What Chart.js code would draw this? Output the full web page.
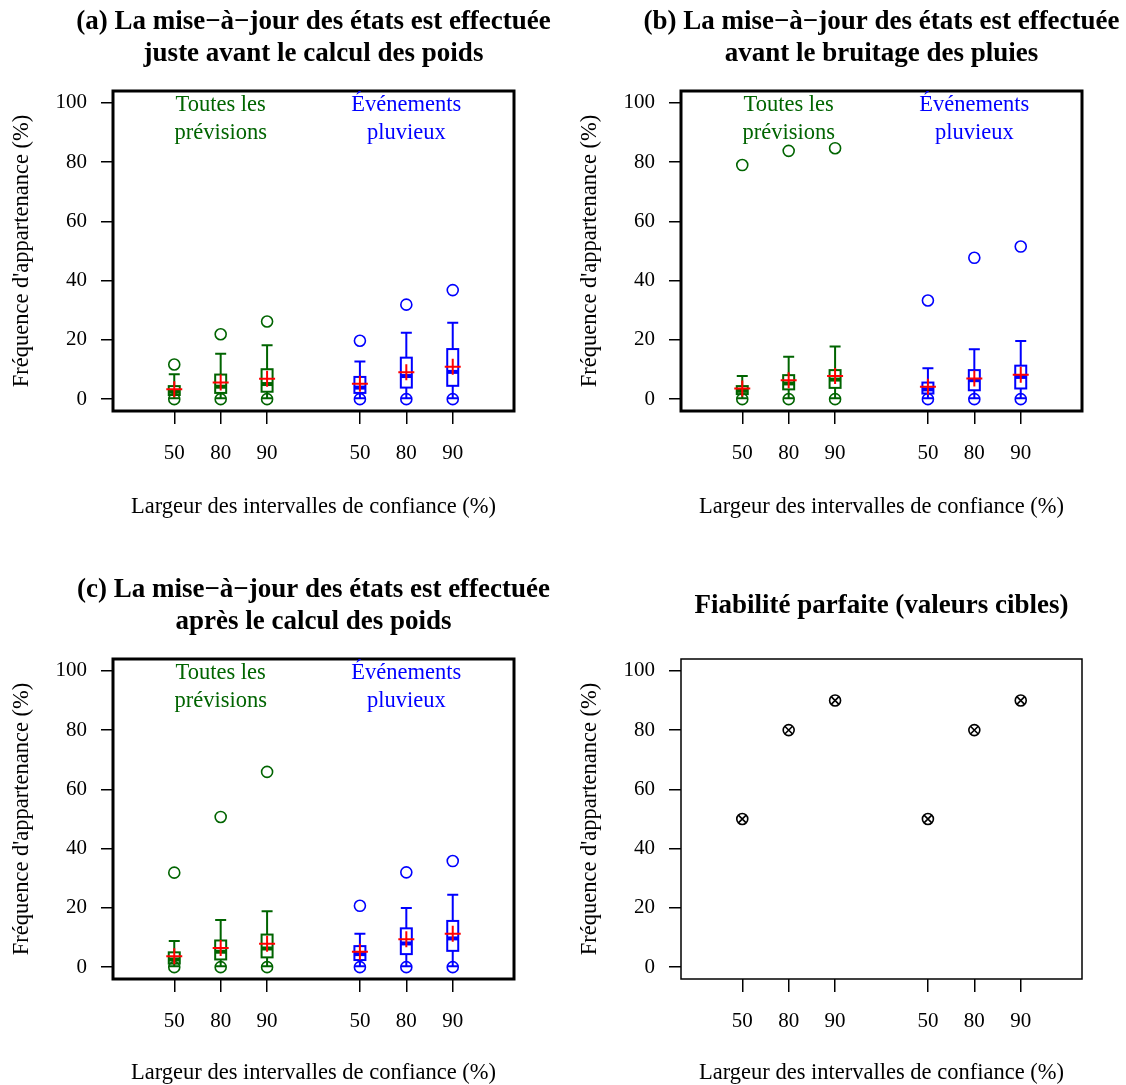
<!DOCTYPE html>
<html>
<head>
<meta charset="utf-8">
<script src="https://cdn.jsdelivr.net/npm/chart.js@4.4.1/dist/chart.umd.min.js"></script>
<style>
  html, body { margin: 0; padding: 0; background: #fff; }
  #wrap { position: relative; width: 1126px; height: 1085px; overflow: hidden; }
  canvas { position: absolute; }
</style>
</head>
<body>
<div id="wrap">
  <canvas id="pa" width="563" height="543" style="left:0;top:0"></canvas>
  <canvas id="pb" width="563" height="543" style="left:563px;top:0"></canvas>
  <canvas id="pc" width="563" height="542" style="left:0;top:543px"></canvas>
  <canvas id="pd" width="563" height="542" style="left:563px;top:543px"></canvas>
</div>
<script>
// --- données ---
const positions = [1, 2, 3, 5, 6, 7];
const xTickLabels = ["50", "80", "90", "50", "80", "90"];
const yTickValues = [0, 20, 40, 60, 80, 100];

// (a) mise-à-jour juste avant le calcul des poids
const aLow     = [0.3, 0.3, 0.3, 0.3, 0.3, 0.3];
const aQ1      = [1.4, 2.1, 2.5, 2.1, 3.9, 4.5];
const aMedian  = [2.5, 4.2, 5.1, 3.9, 7.8, 9.2];
const aQ3      = [4.4, 8.3, 10.1, 7.5, 14.0, 16.9];
const aHigh    = [8.4, 15.3, 18.2, 12.7, 22.4, 25.8];
const aMean    = [3.3, 5.6, 6.9, 5.2, 9.1, 10.9];
const aOutHigh = [11.7, 21.9, 26.2, 19.7, 31.9, 36.8];
const aOutLow  = [0, 0, 0, 0, 0, 0];

// (b) mise-à-jour avant le bruitage des pluies
const bLow     = [0.3, 0.3, 0.3, 0.3, 0.3, 0.3];
const bQ1      = [1.7, 3.3, 3.8, 1.9, 3.0, 3.6];
const bMedian  = [2.8, 5.3, 6.6, 3.3, 6.4, 7.5];
const bQ3      = [4.4, 8.1, 9.8, 5.6, 9.8, 11.3];
const bHigh    = [7.8, 14.3, 17.8, 10.4, 16.8, 19.6];
const bMean    = [3.6, 6.4, 7.8, 4.2, 7.0, 8.2];
const bOutHigh = [79.0, 83.8, 84.7, 33.3, 47.7, 51.5];
const bOutLow  = [0, 0, 0, 0, 0, 0];

// (c) mise-à-jour après le calcul des poids
const cLow     = [0.3, 0.3, 0.3, 0.3, 0.3, 0.3];
const cQ1      = [1.2, 2.6, 3.3, 2.4, 4.4, 5.5];
const cMedian  = [2.6, 5.2, 6.3, 4.4, 8.0, 9.7];
const cQ3      = [5.0, 9.0, 11.0, 7.1, 13.1, 15.6];
const cHigh    = [8.8, 15.9, 18.9, 11.3, 20.0, 24.4];
const cMean    = [3.7, 6.5, 7.9, 5.2, 9.4, 11.3];
const cOutHigh = [31.9, 50.7, 65.9, 20.7, 32.0, 35.8];
const cOutLow  = [0, 0, 0, 0, 0, 0];

// fiabilité parfaite
const targetValues = [50, 80, 90, 50, 80, 90];

const titleA = ["(a) La mise\u2212\u00e0\u2212jour des \u00e9tats est effectu\u00e9e", "juste avant le calcul des poids"];
const titleB = ["(b) La mise\u2212\u00e0\u2212jour des \u00e9tats est effectu\u00e9e", "avant le bruitage des pluies"];
const titleC = ["(c) La mise\u2212\u00e0\u2212jour des \u00e9tats est effectu\u00e9e", "apr\u00e8s le calcul des poids"];
const titleD = ["Fiabilit\u00e9 parfaite (valeurs cibles)"];
const groupLabels = [["Toutes les", "pr\u00e9visions"], ["\u00c9v\u00e9nements", "pluvieux"]];
const groupLabelX = [2, 6];
const yTitle = "Fr\u00e9quence d'appartenance (%)";
const xTitle = "Largeur des intervalles de confiance (%)";

// --- styles ---
const FONT = "'Liberation Serif', 'DejaVu Serif', serif";
const GREEN = "#006400", BLUE = "#0000FF", RED = "#FF0000";
const boxColors = [GREEN, GREEN, GREEN, BLUE, BLUE, BLUE];
const groupColors = [GREEN, BLUE];
const BOX_W = 401, BOX_H = 320;

function pts(vals) { return vals.map((v, i) => ({ x: positions[i], y: v })); }

// boîtes à moustaches dessinées avec les échelles du graphique
const boxPlugin = {
  id: "boxes",
  beforeDatasetsDraw(chart) {
    const st = chart.config.options.plugins.boxes;
    if (!st || !st.q1) return;
    const ctx = chart.ctx, xs = chart.scales.x, ys = chart.scales.y;
    const hw = 5.5;
    ctx.save();
    positions.forEach((p, i) => {
      const x = xs.getPixelForValue(p);
      const yl = ys.getPixelForValue(st.low[i]);
      const y1 = ys.getPixelForValue(st.q1[i]);
      const ym = ys.getPixelForValue(st.median[i]);
      const y3 = ys.getPixelForValue(st.q3[i]);
      const yh = ys.getPixelForValue(st.high[i]);
      ctx.strokeStyle = boxColors[i];
      ctx.lineWidth = 2;
      ctx.beginPath();
      ctx.moveTo(x, y3); ctx.lineTo(x, yh);
      ctx.moveTo(x, y1); ctx.lineTo(x, yl);
      ctx.moveTo(x - hw, yh); ctx.lineTo(x + hw, yh);
      ctx.moveTo(x - hw, yl); ctx.lineTo(x + hw, yl);
      ctx.stroke();
      ctx.strokeRect(x - hw, y3, 2 * hw, y1 - y3);
      ctx.lineWidth = 4;
      ctx.beginPath();
      ctx.moveTo(x - hw, ym); ctx.lineTo(x + hw, ym);
      ctx.stroke();
    });
    ctx.restore();
  }
};

// cadre, titres et textes
const decoPlugin = {
  id: "deco",
  afterDraw(chart) {
    const o = chart.config.options.plugins.deco;
    const ctx = chart.ctx, a = chart.chartArea;
    const xs = chart.scales.x, ys = chart.scales.y;
    const cx = (a.left + a.right) / 2, cy = (a.top + a.bottom) / 2;
    ctx.save();
    ctx.strokeStyle = "#000";
    ctx.lineWidth = o.frame;
    ctx.strokeRect(a.left, a.top, a.right - a.left, a.bottom - a.top);
    ctx.fillStyle = "#000";
    ctx.textAlign = "center";
    ctx.textBaseline = "middle";
    ctx.font = "bold 27px " + FONT;
    if (o.title.length === 2) {
      ctx.fillText(o.title[0], cx, a.top - 69);
      ctx.fillText(o.title[1], cx, a.top - 37);
    } else {
      ctx.fillText(o.title[0], cx, a.top - 53);
    }
    ctx.font = "22.5px " + FONT;
    ctx.fillText(xTitle, cx, a.bottom + o.xTitleGap);
    ctx.save();
    ctx.translate(a.left - 91, cy);
    ctx.rotate(-Math.PI / 2);
    ctx.fillText(yTitle, 0, 0);
    ctx.restore();
    if (o.groups) {
      ctx.font = "22.5px " + FONT;
      groupLabels.forEach((lines, g) => {
        ctx.fillStyle = groupColors[g];
        const gx = xs.getPixelForValue(groupLabelX[g]);
        const gy = ys.getPixelForValue(100) + 2;
        ctx.fillText(lines[0], gx, gy);
        ctx.fillText(lines[1], gx, gy + 28);
      });
    }
    ctx.restore();
  }
};

function makeChart(id, boxLeft, boxTop, datasets, boxes, deco) {
  const cv = document.getElementById(id);
  const W = cv.width, H = cv.height;
  const xH = 80;
  return new Chart(cv, {
    type: "scatter",
    data: { datasets },
    options: {
      responsive: false,
      animation: false,
      events: [],
      layout: {
        padding: { left: 0, top: boxTop, right: W - boxLeft - BOX_W, bottom: H - boxTop - BOX_H - xH }
      },
      scales: {
        x: {
          type: "linear", min: -0.32, max: 8.32,
          afterBuildTicks: s => { s.ticks = positions.map(v => ({ value: v })); },
          afterFit: s => { s.height = xH; },
          ticks: {
            autoSkip: false, maxRotation: 0, color: "#000", padding: 17,
            font: { family: FONT, size: 21 },
            callback: (v, i) => xTickLabels[i]
          },
          grid: { drawOnChartArea: false, drawTicks: true, tickLength: 13, color: "#000", lineWidth: 1.5 },
          border: { display: false }
        },
        y: {
          type: "linear", min: -4, max: 104,
          afterBuildTicks: s => { s.ticks = yTickValues.map(v => ({ value: v })); },
          afterFit: s => { s.width = boxLeft; },
          ticks: {
            color: "#000", padding: 14,
            font: { family: FONT, size: 21 },
            callback: v => String(v)
          },
          grid: { drawOnChartArea: false, drawTicks: true, tickLength: 12, color: "#000", lineWidth: 1.5 },
          border: { display: false }
        }
      },
      plugins: {
        legend: { display: false },
        tooltip: { enabled: false },
        boxes: boxes,
        deco: deco
      }
    },
    plugins: [boxPlugin, decoPlugin]
  });
}

function boxDatasets(mean, outHigh, outLow) {
  return [
    { data: pts(mean), pointStyle: "cross", pointRadius: 8, pointBorderColor: RED, pointBorderWidth: 2 },
    { data: pts(outHigh), pointStyle: "circle", pointRadius: 5.5, pointBackgroundColor: "rgba(0,0,0,0)",
      pointBorderColor: boxColors, pointBorderWidth: 1.6 },
    { data: pts(outLow), pointStyle: "circle", pointRadius: 5.5, pointBackgroundColor: "rgba(0,0,0,0)",
      pointBorderColor: boxColors, pointBorderWidth: 1.6 }
  ];
}

makeChart("pa", 113, 91, boxDatasets(aMean, aOutHigh, aOutLow),
  { low: aLow, q1: aQ1, median: aMedian, q3: aQ3, high: aHigh },
  { title: titleA, groups: true, frame: 3, xTitleGap: 96 });
makeChart("pb", 118, 91, boxDatasets(bMean, bOutHigh, bOutLow),
  { low: bLow, q1: bQ1, median: bMedian, q3: bQ3, high: bHigh },
  { title: titleB, groups: true, frame: 3, xTitleGap: 96 });
makeChart("pc", 113, 116, boxDatasets(cMean, cOutHigh, cOutLow),
  { low: cLow, q1: cQ1, median: cMedian, q3: cQ3, high: cHigh },
  { title: titleC, groups: true, frame: 3, xTitleGap: 94 });
makeChart("pd", 118, 116, [
    { data: pts(targetValues), pointStyle: "crossRot", pointRadius: 5.5, pointBorderColor: "#000", pointBorderWidth: 1.6 },
    { data: pts(targetValues), pointStyle: "circle", pointRadius: 5.5, pointBackgroundColor: "rgba(0,0,0,0)",
      pointBorderColor: "#000", pointBorderWidth: 1.6 }
  ],
  {},
  { title: titleD, groups: false, frame: 1.5, xTitleGap: 94 });
</script>
</body>
</html>
